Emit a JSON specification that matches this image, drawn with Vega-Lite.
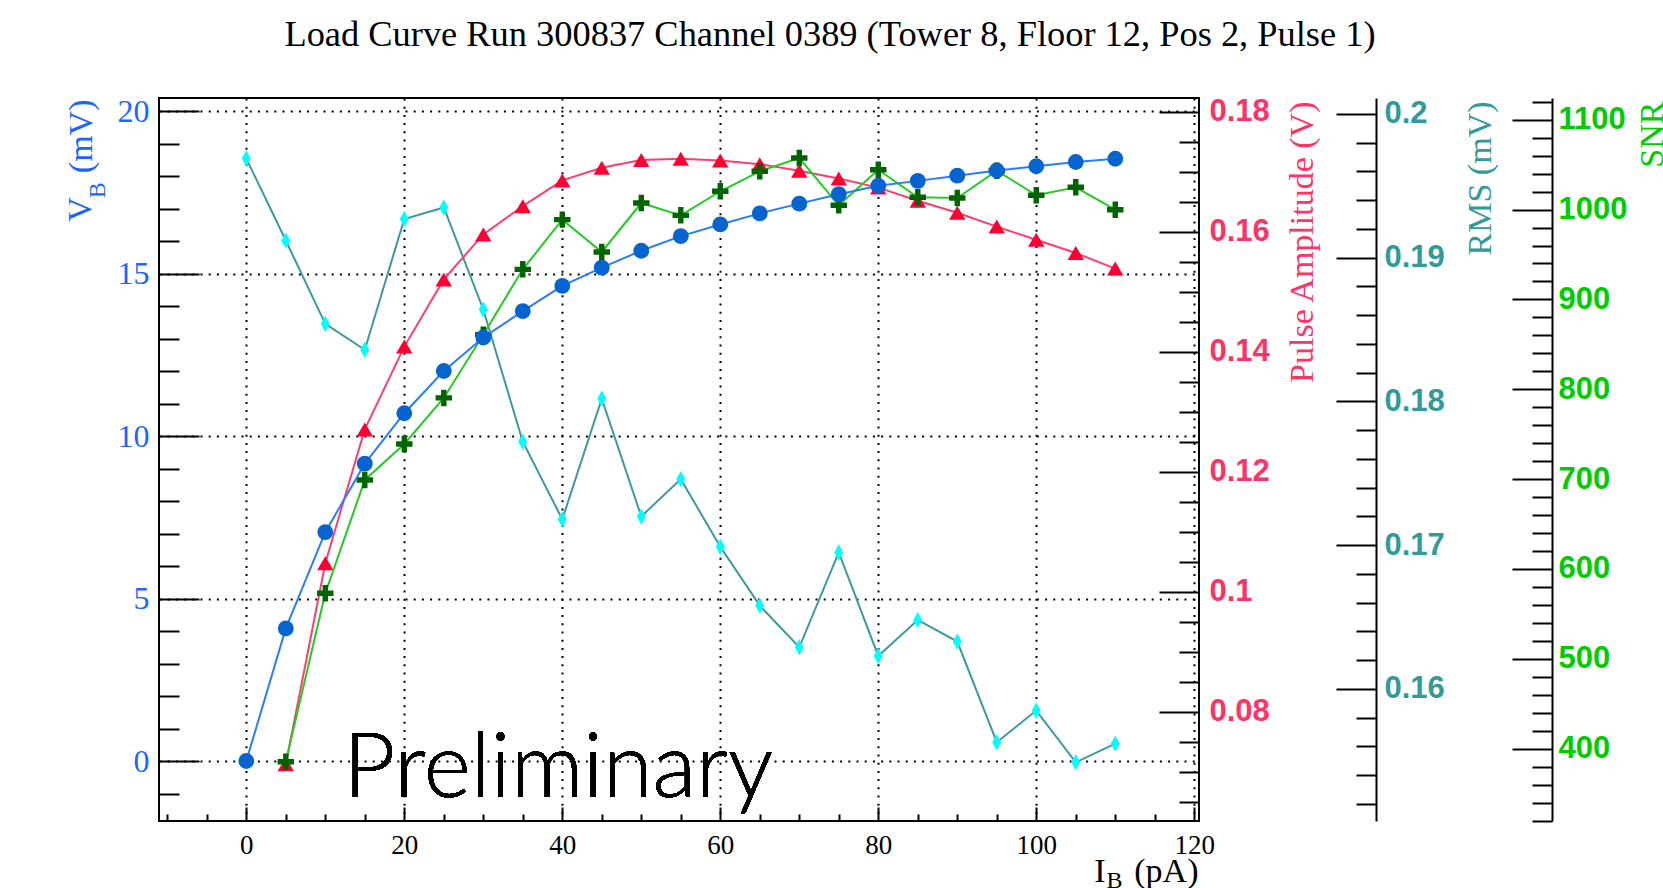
{
  "$schema": "https://vega.github.io/schema/vega-lite/v6.json",
  "width": 1040,
  "height": 723,
  "autosize": {"type": "none"},
  "padding": {"left": 159, "top": 98, "right": 464, "bottom": 67},
  "background": "white",
  "title": {
    "text": "Load Curve Run 300837 Channel 0389 (Tower 8, Floor 12, Pos 2, Pulse 1)",
    "font": "Liberation Serif",
    "fontSize": 36.4,
    "fontWeight": "normal",
    "color": "black",
    "anchor": "middle",
    "frame": "group",
    "dx": 151,
    "baseline": "alphabetic",
    "offset": 13
  },
  "data": {
    "values": [
      {"x": 0, "vb": 0, "amp": null, "rms": 0.1969, "snr": null},
      {"x": 5, "vb": 4.08, "amp": 0.0713, "rms": 0.1912, "snr": 385.5},
      {"x": 10, "vb": 7.04, "amp": 0.1048, "rms": 0.1854, "snr": 572.9},
      {"x": 15, "vb": 9.15, "amp": 0.1271, "rms": 0.1836, "snr": 699.1},
      {"x": 20, "vb": 10.70, "amp": 0.1409, "rms": 0.1927, "snr": 739.1},
      {"x": 25, "vb": 12.0, "amp": 0.1521, "rms": 0.1935, "snr": 790.4},
      {"x": 30, "vb": 13.03, "amp": 0.1596, "rms": 0.1864, "snr": 860.8},
      {"x": 35, "vb": 13.84, "amp": 0.1643, "rms": 0.1772, "snr": 933.5},
      {"x": 40, "vb": 14.62, "amp": 0.1686, "rms": 0.1718, "snr": 988.8},
      {"x": 45, "vb": 15.18, "amp": 0.1707, "rms": 0.1802, "snr": 952.8},
      {"x": 50, "vb": 15.70, "amp": 0.1720, "rms": 0.1720, "snr": 1007.3},
      {"x": 55, "vb": 16.15, "amp": 0.1722, "rms": 0.1746, "snr": 993.6},
      {"x": 60, "vb": 16.51, "amp": 0.1719, "rms": 0.1699, "snr": 1020.4},
      {"x": 65, "vb": 16.85, "amp": 0.1713, "rms": 0.1658, "snr": 1042.6},
      {"x": 70, "vb": 17.15, "amp": 0.1702, "rms": 0.1629, "snr": 1057.4},
      {"x": 75, "vb": 17.44, "amp": 0.1689, "rms": 0.1695, "snr": 1004.8},
      {"x": 80, "vb": 17.70, "amp": 0.1674, "rms": 0.1623, "snr": 1044.4},
      {"x": 85, "vb": 17.85, "amp": 0.1652, "rms": 0.1648, "snr": 1013.7},
      {"x": 90, "vb": 18.01, "amp": 0.1632, "rms": 0.1633, "snr": 1012.9},
      {"x": 95, "vb": 18.17, "amp": 0.1609, "rms": 0.1563, "snr": 1043.3},
      {"x": 100, "vb": 18.30, "amp": 0.1587, "rms": 0.1585, "snr": 1015.9},
      {"x": 105, "vb": 18.43, "amp": 0.1565, "rms": 0.1549, "snr": 1024.8},
      {"x": 110, "vb": 18.53, "amp": 0.1539, "rms": 0.1562, "snr": 999.9}
    ]
  },
  "config": {
    "view": {"stroke": "black", "strokeWidth": 2},
    "axis": {
      "titleFontWeight": "normal",
      "titleFont": "Liberation Serif",
      "labelFont": "Liberation Serif",
      "domainColor": "black",
      "domainWidth": 2,
      "tickColor": "black",
      "tickWidth": 2,
      "labelOverlap": false,
      "labelFlush": false,
      "labelBound": false
    }
  },
  "resolve": {
    "scale": {"x": "independent", "y": "independent"},
    "axis": {"x": "independent", "y": "independent"}
  },
  "layer": [
    {
      "mark": {"type": "line", "color": "#3d9a9a", "strokeWidth": 2, "point": {"filled": true, "shape": "M0,-1L0.55,0L0,1L-0.55,0Z", "size": 270, "color": "#00ffff", "opacity": 1}},
      "encoding": {
        "x": {"field": "x", "type": "quantitative", "scale": {"domain": [-11.05, 120.6], "nice": false, "zero": false}, "axis": null},
        "y": {"field": "rms", "type": "quantitative", "scale": {"domain": [0.150817, 0.201113], "nice": false, "zero": false},
          "axis": {"orient": "right", "offset": 177, "values": [0.16, 0.17, 0.18, 0.19, 0.2], "format": ".2~f", "tickSize": -40, "labelPadding": 48,
            "labelFont": "Liberation Sans", "labelFontWeight": "bold", "labelFontSize": 31, "labelColor": "#339999", "labelAlign": "left", "labelBaseline": "middle",
            "domain": true, "grid": false,
            "title": "RMS (mV)", "titleFontSize": 34, "titleColor": "#339999", "titleAngle": 270, "titleAlign": "right", "titleBaseline": "middle", "titleX": 104, "titleY": 3}}
      }
    },
    {
      "mark": {"type": "point", "opacity": 0, "size": 1},
      "encoding": {
        "x": {"field": "x", "type": "quantitative", "scale": {"domain": [-11.05, 120.6], "nice": false, "zero": false}, "axis": null},
        "y": {"field": "rms", "type": "quantitative", "scale": {"domain": [0.150817, 0.201113], "nice": false, "zero": false},
          "axis": {"orient": "right", "offset": 177, "values": [0.152, 0.154, 0.156, 0.158, 0.162, 0.164, 0.166, 0.168, 0.172, 0.174, 0.176, 0.178, 0.182, 0.184, 0.186, 0.188, 0.192, 0.194, 0.196, 0.198],
            "tickSize": -20, "labels": false, "domain": false, "grid": false, "title": null}}
      }
    },
    {
      "mark": {"type": "line", "color": "#ff3d6e", "strokeWidth": 2, "point": {"filled": true, "shape": "M0,-0.85L1,0.85L-1,0.85Z", "size": 270, "color": "#ff0033", "opacity": 1}},
      "encoding": {
        "x": {"field": "x", "type": "quantitative", "scale": {"domain": [-11.05, 120.6], "nice": false, "zero": false}, "axis": null},
        "y": {"field": "amp", "type": "quantitative", "scale": {"domain": [0.061833, 0.182333], "nice": false, "zero": false},
          "axis": {"orient": "right", "values": [0.08, 0.1, 0.12, 0.14, 0.16, 0.18], "format": ".2~f", "tickSize": -40, "labelPadding": 50,
            "labelFont": "Liberation Sans", "labelFontWeight": "bold", "labelFontSize": 31, "labelColor": "#ff3366", "labelAlign": "left", "labelBaseline": "middle",
            "domain": false, "grid": false,
            "title": "Pulse Amplitude (V)", "titleFontSize": 34, "titleColor": "#ff3366", "titleAngle": 270, "titleAlign": "right", "titleBaseline": "middle", "titleX": 103, "titleY": 3}}
      }
    },
    {
      "mark": {"type": "point", "opacity": 0, "size": 1},
      "encoding": {
        "x": {"field": "x", "type": "quantitative", "scale": {"domain": [-11.05, 120.6], "nice": false, "zero": false}, "axis": null},
        "y": {"field": "amp", "type": "quantitative", "scale": {"domain": [0.061833, 0.182333], "nice": false, "zero": false},
          "axis": {"orient": "right", "values": [0.065, 0.07, 0.075, 0.085, 0.09, 0.095, 0.105, 0.11, 0.115, 0.125, 0.13, 0.135, 0.145, 0.15, 0.155, 0.165, 0.17, 0.175],
            "tickSize": -20, "labels": false, "domain": false, "grid": false, "title": null}}
      }
    },
    {
      "mark": {"type": "line", "color": "#22cc22", "strokeWidth": 2, "point": {"filled": true, "shape": "M-1,-0.33L-0.33,-0.33L-0.33,-1L0.33,-1L0.33,-0.33L1,-0.33L1,0.33L0.33,0.33L0.33,1L-0.33,1L-0.33,0.33L-1,0.33Z", "size": 270, "color": "#006400", "opacity": 1}},
      "encoding": {
        "x": {"field": "x", "type": "quantitative", "scale": {"domain": [-11.05, 120.6], "nice": false, "zero": false}, "axis": null},
        "y": {"field": "snr", "type": "quantitative", "scale": {"domain": [319.5, 1124.2], "nice": false, "zero": false},
          "axis": {"orient": "right", "offset": 353, "values": [400, 500, 600, 700, 800, 900, 1000, 1100], "format": "d", "tickSize": -40, "labelPadding": 46,
            "labelFont": "Liberation Sans", "labelFontWeight": "bold", "labelFontSize": 31, "labelColor": "#00cc00", "labelAlign": "left", "labelBaseline": "middle",
            "domain": true, "grid": false,
            "title": "SNR", "titleFontSize": 34, "titleColor": "#00cc00", "titleAngle": 270, "titleAlign": "right", "titleBaseline": "middle", "titleX": 100, "titleY": 3}}
      }
    },
    {
      "mark": {"type": "point", "opacity": 0, "size": 1},
      "encoding": {
        "x": {"field": "x", "type": "quantitative", "scale": {"domain": [-11.05, 120.6], "nice": false, "zero": false}, "axis": null},
        "y": {"field": "snr", "type": "quantitative", "scale": {"domain": [319.5, 1124.2], "nice": false, "zero": false},
          "axis": {"orient": "right", "offset": 353, "values": [320, 340, 360, 380, 420, 440, 460, 480, 520, 540, 560, 580, 620, 640, 660, 680, 720, 740, 760, 780, 820, 840, 860, 880, 920, 940, 960, 980, 1020, 1040, 1060, 1080, 1120],
            "tickSize": -20, "labels": false, "domain": false, "grid": false, "title": null}}
      }
    },
    {
      "layer": [
        {
          "mark": {"type": "line", "color": "#2b7bff", "strokeWidth": 2, "point": {"filled": true, "shape": "circle", "size": 250, "color": "#0564d0", "opacity": 1}},
          "encoding": {
            "x": {"field": "x", "type": "quantitative", "scale": {"domain": [-11.05, 120.6], "nice": false, "zero": false},
              "axis": {"orient": "bottom", "values": [0, 20, 40, 60, 80, 100, 120], "format": "d", "tickSize": -14, "labelPadding": 25,
                "labelFontSize": 27, "labelColor": "black", "domain": false,
                "grid": true, "gridColor": "black", "gridDash": [2, 6.2], "gridWidth": 2,
                "title": "(pA)", "titleFontSize": 34, "titleColor": "black", "titleAlign": "right", "titleBaseline": "alphabetic", "titleX": 1039, "titleY": 60}},
            "y": {"field": "vb", "type": "quantitative", "scale": {"domain": [-1.846, 20.4], "nice": false, "zero": false},
              "axis": {"orient": "left", "values": [0, 5, 10, 15, 20], "format": "d", "tickSize": -40, "labelPadding": 50,
                "labelFontSize": 32, "labelColor": "#1a66ff", "domain": false,
                "grid": true, "gridColor": "black", "gridDash": [2, 6.2], "gridWidth": 2,
                "title": "(mV)", "titleFontSize": 34, "titleColor": "#1a66ff", "titleAngle": 270, "titleAlign": "right", "titleBaseline": "middle", "titleX": -77.5, "titleY": 1}}
          }
        },
        {
          "mark": {"type": "text", "text": "Preliminary", "font": "Lato", "fontWeight": 300, "fontSize": 90, "align": "left", "baseline": "alphabetic", "color": "black"},
          "encoding": {
            "x": {"datum": 12.3},
            "y": {"datum": -1.108}
          }
        }
      ]
    },
    {
      "mark": {"type": "point", "opacity": 0, "size": 1},
      "encoding": {
        "x": {"field": "x", "type": "quantitative", "scale": {"domain": [-11.05, 120.6], "nice": false, "zero": false},
          "axis": {"orient": "bottom", "values": [-10, -5, 5, 10, 15, 25, 30, 35, 45, 50, 55, 65, 70, 75, 85, 90, 95, 105, 110, 115],
            "tickSize": -7, "labels": false, "domain": false, "grid": false,
            "title": "I", "titleFontSize": 34, "titleColor": "black", "titleAlign": "right", "titleBaseline": "alphabetic", "titleX": 946, "titleY": 60}},
        "y": {"field": "vb", "type": "quantitative", "scale": {"domain": [-1.846, 20.4], "nice": false, "zero": false},
          "axis": {"orient": "left", "values": [-1, 1, 2, 3, 4, 6, 7, 8, 9, 11, 12, 13, 14, 16, 17, 18, 19],
            "tickSize": -20, "labels": false, "domain": false, "grid": false,
            "title": "V", "titleFontSize": 34, "titleColor": "#1a66ff", "titleAngle": 270, "titleAlign": "right", "titleBaseline": "middle", "titleX": -78.5, "titleY": 98.7}}
      }
    },
    {
      "mark": {"type": "point", "opacity": 0, "size": 1},
      "encoding": {
        "x": {"field": "x", "type": "quantitative", "scale": {"domain": [-11.05, 120.6], "nice": false, "zero": false},
          "axis": {"orient": "bottom", "ticks": false, "labels": false, "domain": false, "grid": false,
            "title": "B", "titleFontSize": 24, "titleColor": "black", "titleAlign": "left", "titleBaseline": "alphabetic", "titleX": 947, "titleY": 66}},
        "y": {"field": "vb", "type": "quantitative", "scale": {"domain": [-1.846, 20.4], "nice": false, "zero": false},
          "axis": {"orient": "left", "ticks": false, "labels": false, "domain": false, "grid": false,
            "title": "B", "titleFontSize": 24, "titleColor": "#1a66ff", "titleAngle": 270, "titleAlign": "right", "titleBaseline": "middle", "titleX": -62, "titleY": 83.7}}
      }
    }
  ]
}
